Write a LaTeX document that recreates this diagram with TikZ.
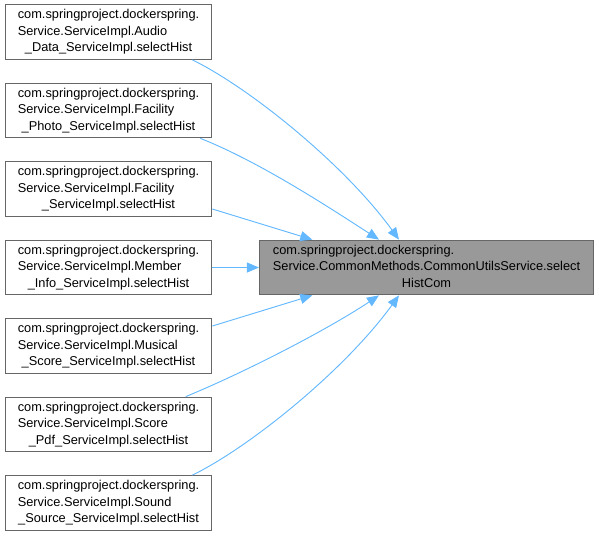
\documentclass[tikz,border=0pt]{standalone}
\usepackage{fontspec}
\setmainfont{Liberation Sans}
\usepackage{tikz}
\usetikzlibrary{arrows.meta,positioning}
\definecolor{edgec}{HTML}{63B8FF}
\definecolor{boxc}{HTML}{666666}
\definecolor{tgtc}{HTML}{999999}
\newcommand{\dlab}[3]{\begin{tabular}{@{}l@{}}#1\\#2\\\multicolumn{1}{@{}c@{}}{#3}\end{tabular}}
\tikzset{
  fn/.style={draw=boxc,thick,fill=white,inner sep=0pt,minimum width=155pt,minimum height=41pt,
    font=\fontsize{9.6}{12.4}\selectfont},
  tgt/.style={fn,fill=tgtc,minimum width=250.5pt},
  ar/.style={-{Triangle[length=9pt,width=7.5pt]},edgec,line width=0.7pt}
}
\begin{document}
\begin{tikzpicture}[x=0.75pt,y=-0.75pt]
\useasboundingbox (0,0) rectangle (599,537);
% callers
\node[fn] (audio) at (108.5,32) {\dlab{com.springproject.dockerspring.}{Service.ServiceImpl.Audio}{\_Data\_ServiceImpl.selectHist}};
\node[fn] (photo) at (108.5,110.5) {\dlab{com.springproject.dockerspring.}{Service.ServiceImpl.Facility}{\_Photo\_ServiceImpl.selectHist}};
\node[fn] (facil) at (108.5,189) {\dlab{com.springproject.dockerspring.}{Service.ServiceImpl.Facility}{\_ServiceImpl.selectHist}};
\node[fn] (member) at (108.5,267.5) {\dlab{com.springproject.dockerspring.}{Service.ServiceImpl.Member}{\_Info\_ServiceImpl.selectHist}};
\node[fn] (score) at (108.5,346) {\dlab{com.springproject.dockerspring.}{Service.ServiceImpl.Musical}{\_Score\_ServiceImpl.selectHist}};
\node[fn] (pdf) at (108.5,424.5) {\dlab{com.springproject.dockerspring.}{Service.ServiceImpl.Score}{\_Pdf\_ServiceImpl.selectHist}};
\node[fn] (sound) at (108.5,503) {\dlab{com.springproject.dockerspring.}{Service.ServiceImpl.Sound}{\_Source\_ServiceImpl.selectHist}};
% callee
\node[tgt] (hist) at (426.5,267.5) {\dlab{com.springproject.dockerspring.}{Service.CommonMethods.CommonUtilsService.select}{HistCom}};
% edges
\draw[ar] ([xshift=-15pt]audio.south east) .. controls (250,88) and (345,165) .. ([xshift=105pt]hist.north west);
\draw[ar] ([xshift=-9pt]photo.south east) .. controls (260,162) and (330,208) .. ([xshift=90pt]hist.north west);
\draw[ar] ([yshift=-15pt]facil.east) -- ([xshift=40pt]hist.north west);
\draw[ar] (member.east) -- (hist.west);
\draw[ar] ([yshift=15pt]score.east) -- ([xshift=40pt]hist.south west);
\draw[ar] ([xshift=-20pt]pdf.north east) .. controls (250,370) and (330,328) .. ([xshift=90pt]hist.south west);
\draw[ar] ([xshift=-15pt]sound.north east) .. controls (250,447) and (345,370) .. ([xshift=105pt]hist.south west);
\end{tikzpicture}
\end{document}
